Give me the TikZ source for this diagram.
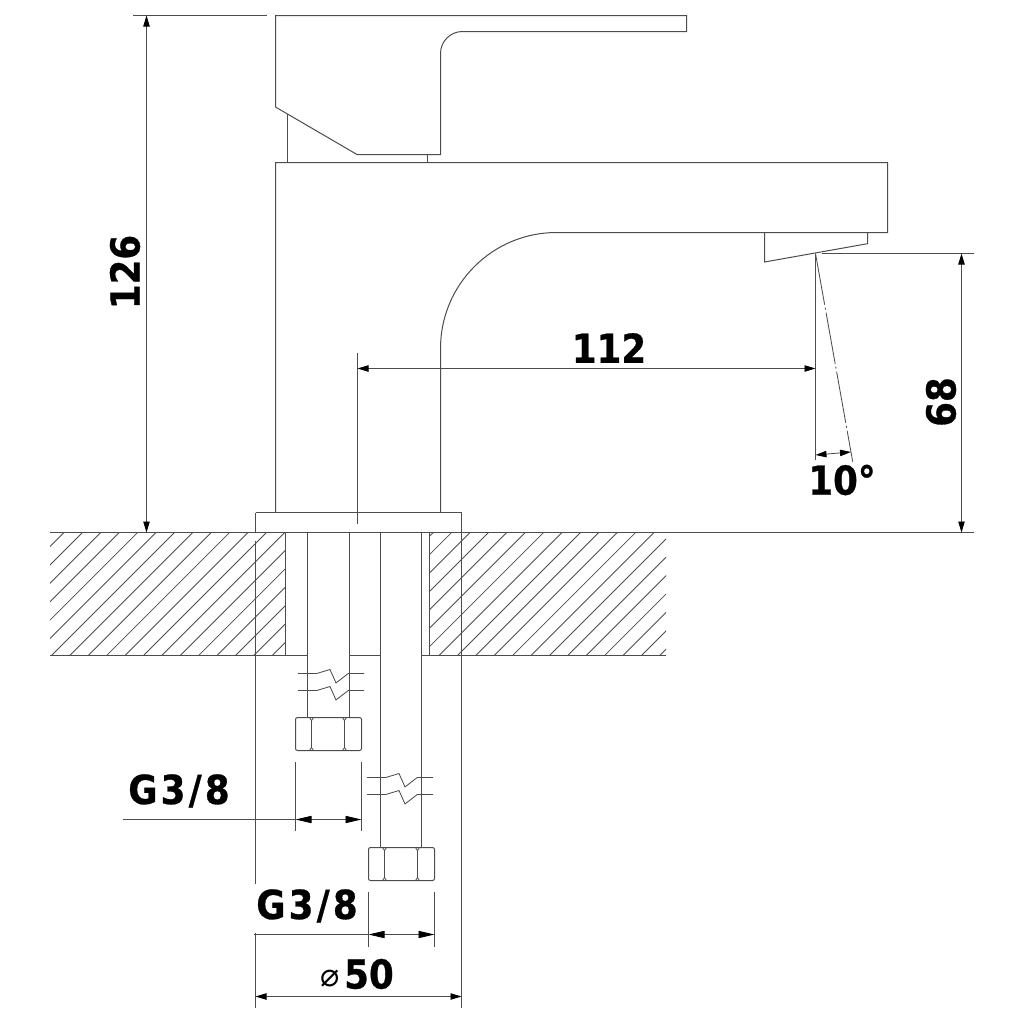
\documentclass[tikz,border=0pt]{standalone}
\usepackage{fontspec}
\setmainfont{DejaVu Sans}[BoldFeatures={FakeStretch=.89,FakeBold=.7}]
\usetikzlibrary{arrows.meta}
\tikzset{
    part/.style={draw=black!70,line width=.5pt},
    thin line/.style={draw=black!70,line width=.42pt},
    dim/.style={thin line,{Stealth[length=5.5pt,width=3.2pt,inset=0pt,black]}-{Stealth[length=5.5pt,width=3.2pt,inset=0pt,black]}},
    dim big/.style={thin line,{Stealth[length=8pt,width=3.6pt,inset=0pt,black]}-{Stealth[length=8pt,width=3.6pt,inset=0pt,black]}},
    label/.style={font=\fontsize{20}{24}\selectfont\bfseries,inner sep=0pt},
}
\begin{document}
\begin{tikzpicture}[x=.5pt,y=-.5pt]
\useasboundingbox (0,0) rectangle (1024,1024);
%hatching
\begin{scope}
\clip (50,532.5) rectangle (285.5,655.5);
\foreach \k in {0,1,...,19}{
    \path[thin line] (596.5+18.4*\k-655.5,655.5) -- (596.5+18.4*\k-532.5,532.5);
}
\end{scope}
\begin{scope}
\clip (429.5,532.5) rectangle (666,655.5);
\foreach \k in {0,1,...,20}{
    \path[thin line] (965.7+18.4*\k-655.5,655.5) -- (965.7+18.4*\k-532.5,532.5);
}
\end{scope}
\path[thin line] (50,532.5) -- (974,532.5);
\path[thin line] (50,655.5) -- (307.5,655.5);
\path[thin line] (349.5,655.5) -- (380.5,655.5);
\path[thin line] (421.5,655.5) -- (666,655.5);
\path[part] (285.5,532.5) -- (285.5,655.5);
\path[part] (429.5,532.5) -- (429.5,655.5);
%handle
\path[part] (686.5,15.5) -- (275.5,15.5) -- (275.5,107) -- (357,154.5) -- (440.5,154.5) -- (440.5,53.5)
    arc[start angle=180,end angle=270,radius=22] -- (686.5,31.5) -- cycle;
\path[part] (287.5,114) -- (287.5,162.5);
\path[part] (427.5,154.5) -- (427.5,162.5);
%body
\path[part] (275.5,512.5) -- (275.5,162.5) -- (887.5,162.5) -- (887.5,232.5) -- (556.5,232.5)
    arc[start angle=270,end angle=180,radius=116] -- (440.5,512.5);
\path[part] (764.5,232.5) -- (764.5,262) -- (867.5,243.7) -- (867.5,232.5);
\path[part] (255.5,512.5) -- (461.5,512.5) (255.5,512.5) -- (255.5,532.5) (461.5,512.5) -- (461.5,532.5);
%pipes
\path[part] (307.5,532.5) -- (307.5,717);
\path[part] (349.5,532.5) -- (349.5,717);
\path[part] (380.5,532.5) -- (380.5,847);
\path[part] (421.5,532.5) -- (421.5,847);
\foreach \x/\y in {0/673.5,0/690.5,69/777.5,69/794.5}{
    \path[thin line] (298+\x,\y) -- (316.7+\x,\y) -- (330+\x,\y-4) -- (336+\x,\y+9.4) -- (348.3+\x,\y) -- (364+\x,\y);
}
%nuts
\foreach \x/\y in {295.5/717.5,368.5/847.5}{
    \path[part,rounded corners=1pt] (\x,\y) rectangle (\x+66,\y+33);
    \foreach \d in {16,49}{
        \path[thin line] (\x+\d-2,\y) -- (\x+\d,\y+3) -- (\x+\d,\y+30) -- (\x+\d-2,\y+33);
        \path[thin line] (\x+\d+2,\y) -- (\x+\d,\y+3) (\x+\d,\y+30) -- (\x+\d+2,\y+33);
    }
}
%extension lines
\path[thin line] (133,15.5) -- (267,15.5);
\path[thin line] (822,253.5) -- (974,253.5);
\path[thin line] (357.5,353) -- (357.5,524);
\path[thin line] (815.5,253.5) -- (815.5,460);
\path[thin line,dash pattern=on 26pt off 1.5pt on 1pt off 1.5pt] (815.5,253.5) -- (852.7,461.7);
\path[thin line] (255.5,541) -- (255.5,884);
\path[thin line] (255.5,933) -- (255.5,1008);
\path[thin line] (461.5,532.5) -- (461.5,1008);
\path[thin line] (295.5,762) -- (295.5,831);
\path[thin line] (361.5,762) -- (361.5,831);
\path[thin line] (368.5,892) -- (368.5,947);
\path[thin line] (434.5,892) -- (434.5,947);
%dimensions
\path[dim] (146.5,15.5) -- (146.5,532.5);
\path[dim] (961.5,253.5) -- (961.5,532.5);
\path[dim] (357.5,368.5) -- (815.5,368.5);
\path[dim] (815.5,455) -- (851,452);
\path[dim] (255.5,996.5) -- (461.5,996.5);
\path[dim big] (295.5,819.5) -- (361.5,819.5);
\path[dim big] (368.5,934.5) -- (434.5,934.5);
\path[thin line] (123,819.5) -- (295.5,819.5);
\path[thin line] (254,934.5) -- (368.5,934.5);
%labels
\node[label,rotate=90] (height) at (125,272){126};
\node[label,rotate=90] (spoutheight) at (941,402){68};
\node[label] (reach) at (609,348){112};
\node[label] (angle) at (842,480){10°};
\node[label] (threadone) at (179,791){G\kern1.6pt3\kern1.6pt/\kern1.6pt8};
\node[label] (threadtwo) at (307,906){G\kern1.6pt3\kern1.6pt/\kern1.6pt8};
\node[label] (width) at (369,974){50};
\node[inner sep=0pt,font=\fontsize{16}{18}\selectfont] (widthsign) at (330,979){⌀};
\end{tikzpicture}
\end{document}
